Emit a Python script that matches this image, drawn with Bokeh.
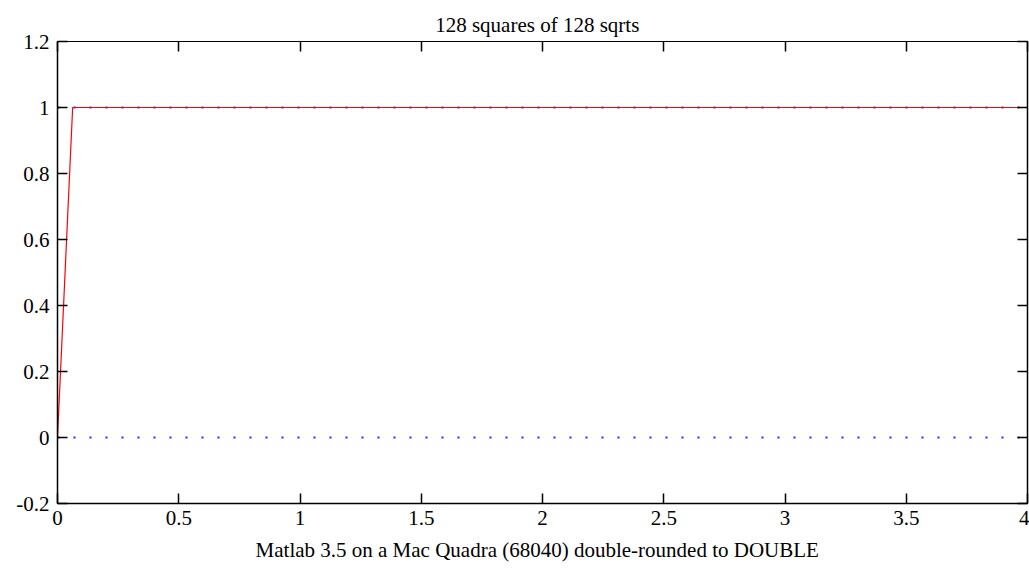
from bokeh.plotting import figure
from bokeh.models import Range1d, FixedTicker, LinearAxis
from bokeh.embed import file_html
from bokeh.resources import INLINE

# data
red_x = [0.0, 0.0625, 4.0]
red_y = [0.0, 1.0, 1.0]
blue_top_x = [0.0, 4.0]
blue_top_y = [1.0, 1.0]
blue_bot_x = [0.0, 4.0]
blue_bot_y = [0.0, 0.0]

x_ticks = [0, 0.5, 1, 1.5, 2, 2.5, 3, 3.5, 4]
x_tick_labels = ["0", "0.5", "1", "1.5", "2", "2.5", "3", "3.5", "4"]
y_ticks = [-0.2, 0, 0.2, 0.4, 0.6, 0.8, 1.0, 1.2]
y_tick_labels = ["-0.2", "0", "0.2", "0.4", "0.6", "0.8", "1", "1.2"]

title_text = "128 squares of  128  sqrts"
xlabel_text = "Matlab 3.5 on a  Mac Quadra (68040)  double-rounded to DOUBLE"

FONT = "Liberation Serif"

p = figure(width=1029, height=570, output_backend="svg", toolbar_location=None,
           x_range=Range1d(0, 4), y_range=Range1d(-0.2, 1.2),
           min_border_left=57, min_border_right=2, min_border_top=41, min_border_bottom=67,
           title=title_text)
p.title.align = "center"
p.title.text_font = FONT
p.title.text_font_size = "21px"
p.title.text_font_style = "normal"
p.title.text_color = "black"

p.xgrid.visible = False
p.ygrid.visible = False
p.outline_line_color = "black"
p.outline_line_width = 1
p.background_fill_color = "white"
p.border_fill_color = "white"

def style_axis(ax, ticks, labels, show_labels=True):
    ax.ticker = FixedTicker(ticks=ticks)
    ax.major_tick_in = 10
    ax.major_tick_out = 0
    ax.minor_tick_line_color = None
    ax.axis_line_color = "black"
    ax.axis_line_width = 1.5
    ax.major_tick_line_color = "black"
    ax.major_tick_line_width = 1.5
    ax.major_label_text_font = FONT
    if show_labels:
        ax.major_label_overrides = {t: l for t, l in zip(ticks, labels)}
        ax.major_label_text_color = "black"
        ax.major_label_text_font_size = "21px"
        ax.major_label_standoff = 3
    else:
        ax.major_label_text_color = None
        ax.major_label_text_font_size = "0px"
        ax.major_label_standoff = 0

style_axis(p.xaxis[0], x_ticks, x_tick_labels)
style_axis(p.yaxis[0], y_ticks, y_tick_labels)
p.yaxis[0].major_label_standoff = 8
p.xaxis[0].major_label_standoff = 7
p.xaxis[0].axis_label = xlabel_text
p.xaxis[0].axis_label_text_font = FONT
p.xaxis[0].axis_label_text_font_size = "21px"
p.xaxis[0].axis_label_text_font_style = "normal"
p.xaxis[0].axis_label_text_color = "black"
p.xaxis[0].axis_label_standoff = 10

top_ax = LinearAxis()
style_axis(top_ax, x_ticks, x_tick_labels, show_labels=False)
top_ax.axis_line_width = 1
top_ax.major_label_text_font_size = "4px"
p.add_layout(top_ax, "above")
right_ax = LinearAxis()
style_axis(right_ax, y_ticks, y_tick_labels, show_labels=False)
p.add_layout(right_ax, "right")

p.line(blue_top_x, blue_top_y, line_color="#0000ff", line_width=2, line_dash="2 14", line_alpha=0.85)
p.line(blue_bot_x, blue_bot_y, line_color="#0000ff", line_width=2, line_dash="2 14", line_alpha=0.85)
p.line(red_x, red_y, line_color="#ff0000", line_width=1.2)

open("out.html", "w").write(file_html(p, INLINE))
